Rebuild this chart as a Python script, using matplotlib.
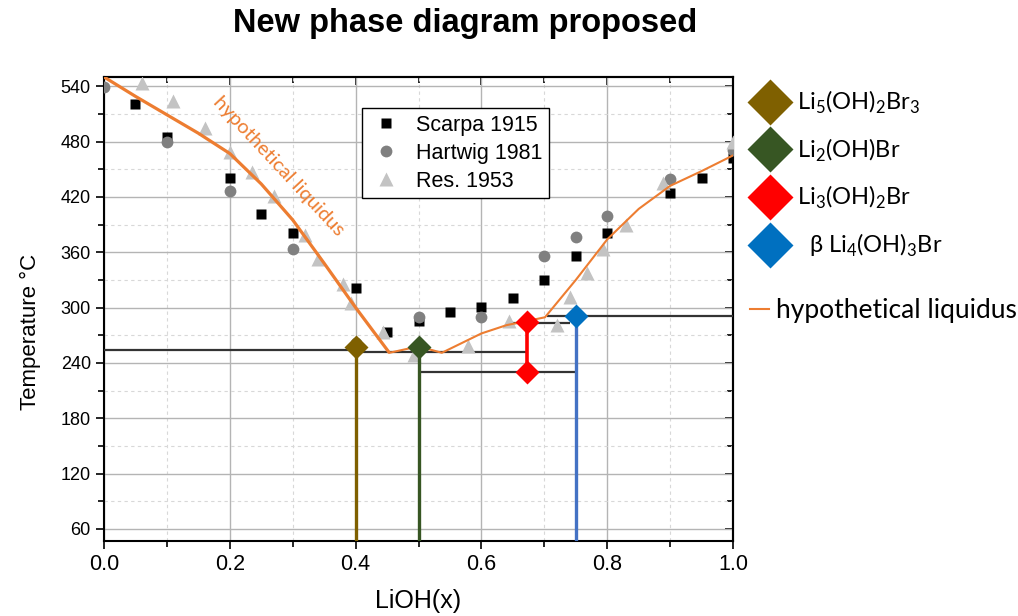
import matplotlib.pyplot as plt
from matplotlib.lines import Line2D
from matplotlib.ticker import MultipleLocator, FormatStrFormatter

plt.rcParams['font.family'] = ['Liberation Sans', 'DejaVu Sans']
plt.rcParams['mathtext.fontset'] = 'custom'
plt.rcParams['mathtext.rm'] = 'Lato'

# Scarpa 1915 (black squares)
scarpa_x = [0.05, 0.1, 0.2, 0.25, 0.3, 0.4, 0.45, 0.5, 0.55, 0.6, 0.65, 0.7, 0.75, 0.8, 0.9, 0.95, 1.0]
scarpa_T = [521, 485, 441, 401, 381, 321, 274, 286, 295, 301, 310, 330, 356, 381, 424, 441, 462]

# Hartwig 1981 (grey circles)
hartwig_x = [0.0, 0.1, 0.2, 0.3, 0.4, 0.5, 0.6, 0.7, 0.75, 0.8, 0.9, 1.0]
hartwig_T = [539, 480, 426, 363, 262, 290, 290, 356, 377, 399, 439, 471]

# Res. 1953 (light grey triangles)
res_x = [0.06, 0.11, 0.16, 0.2, 0.235, 0.27, 0.32, 0.34, 0.38, 0.392, 0.444, 0.492,
         0.578, 0.643, 0.72, 0.74, 0.768, 0.794, 0.83, 0.889, 1.0]
res_T = [543, 524, 495, 469, 447, 421, 379, 353, 326, 305, 274, 249,
         258, 285, 281, 312, 338, 363, 390, 435, 480]

# hypothetical liquidus
liq_left_x = [0.0, 0.05, 0.1, 0.15, 0.2, 0.25, 0.3, 0.35, 0.4, 0.4536]
liq_left_T = [550, 529, 509, 489, 467, 434, 395, 348, 300, 251]
liq_right_x = [0.4536, 0.5, 0.537, 0.6, 0.64, 0.701, 0.75, 0.8, 0.85, 0.9, 0.95, 1.0]
liq_right_T = [251, 258, 251, 272, 281, 289.5, 330, 374, 407, 432, 448, 465]

# compounds
comp_labels = [r'Li$_\mathregular{5}$(OH)$_\mathregular{2}$Br$_\mathregular{3}$',
               r'Li$_\mathregular{2}$(OH)Br',
               r'Li$_\mathregular{3}$(OH)$_\mathregular{2}$Br',
               r'  β Li$_\mathregular{4}$(OH)$_\mathregular{3}$Br']
comp_x = [0.4, 0.5, 0.672, 0.75]
comp_T = [257, 257, 284.7, 290.8]
comp_colors = ['#7F6000', '#375623', '#FF0000', '#0070C0']
line_colors = ['#7F6000', '#375623', '#FF0000', '#4472C4']
red_low_T = 230.6

# horizontal (invariant) lines
hline_T = [254, 251.5, 230.6, 283, 291]
hline_x0 = [0.0, 0.41, 0.5, 0.643, 0.704]
hline_x1 = [0.41, 0.672, 0.75, 0.74, 1.0]

orange = '#ED7D31'
ymin, ymax = 47, 550

fig = plt.figure(figsize=(10.18, 6.16), dpi=100)
ax = fig.add_axes([0.1022, 0.1218, 0.6179, 0.7532])

ax.set_xlim(0, 1)
ax.set_ylim(ymin, ymax)

# grid
ax.set_axisbelow(True)
ax.xaxis.set_major_locator(MultipleLocator(0.2))
ax.xaxis.set_minor_locator(MultipleLocator(0.1))
ax.xaxis.set_major_formatter(FormatStrFormatter('%.1f'))
ax.set_yticks(range(60, 541, 60))
ax.yaxis.set_minor_locator(MultipleLocator(30))
ax.grid(which='major', color='#b4b4b4', lw=1.0, ls='-')
ax.grid(which='minor', color='#d8d8d8', lw=0.8, ls=(0, (3, 3)))

# invariant lines
ax.hlines(hline_T, hline_x0, hline_x1, colors='#333333', lw=1.6, zorder=3)

# data
h1, = ax.plot(scarpa_x, scarpa_T, 's', color='black', ms=7.5, mec='none', zorder=4, label='Scarpa 1915')
h2, = ax.plot(hartwig_x, hartwig_T, 'o', color='#808080', ms=8.5, mec='none', zorder=4, label='Hartwig 1981')
h3, = ax.plot(res_x, res_T, '^', color='#c3c3c3', ms=9.5, mec='none', zorder=4, label='Res. 1953')

# liquidus
ax.plot(liq_left_x, liq_left_T, color=orange, lw=2.3, zorder=5, solid_capstyle='butt', solid_joinstyle='round')
ax.plot(liq_right_x, liq_right_T, color=orange, lw=1.5, zorder=5, solid_joinstyle='round')
ax.text(0.278, 453, 'hypothetical liquidus', color=orange, fontsize=14.5, family=['Lato', 'DejaVu Sans'],
        rotation=-47, rotation_mode='anchor', ha='center', va='center', zorder=6)

# compound lines and markers
for i in range(4):
    if i == 2:
        ax.vlines(comp_x[i], red_low_T, comp_T[i], color=line_colors[i], lw=2.6, zorder=6)
        ax.plot([comp_x[i]], [red_low_T], 'D', color=comp_colors[i], ms=12, mec='none', zorder=7)
    else:
        ax.vlines(comp_x[i], ymin, comp_T[i], color=line_colors[i], lw=2.4, zorder=6)
    ax.plot([comp_x[i]], [comp_T[i]], 'D', color=comp_colors[i], ms=12, mec='none', zorder=7)

# axes styling
for s in ax.spines.values():
    s.set_linewidth(1.5)
ax.tick_params(which='both', direction='out', width=1.2)
ax.tick_params(axis='y', labelsize=13)
ax.tick_params(axis='x', labelsize=15.5)
ax.tick_params(which='major', length=6)
ax.tick_params(which='minor', length=4)

secx = ax.secondary_xaxis('top')
secx.xaxis.set_major_locator(MultipleLocator(0.2))
secx.xaxis.set_minor_locator(MultipleLocator(0.1))
secx.tick_params(which='both', direction='in', labeltop=False, width=1.2)
secx.tick_params(which='major', length=6)
secx.tick_params(which='minor', length=4)
secx.spines['top'].set_linewidth(1.5)

secy = ax.secondary_yaxis('right')
secy.set_yticks(range(60, 541, 60))
secy.yaxis.set_minor_locator(MultipleLocator(30))
secy.tick_params(which='both', direction='in', labelright=False, width=1.2)
secy.tick_params(which='major', length=6)
secy.tick_params(which='minor', length=4)
secy.spines['right'].set_linewidth(1.5)

ax.set_xlabel('LiOH(x)', fontsize=18)
ax.xaxis.set_label_coords(0.5, -0.103)
ax.set_ylabel('Temperature °C', fontsize=16)
ax.yaxis.set_label_coords(-0.100, 0.45)

fig.text(0.457, 0.962, 'New phase diagram proposed', fontsize=23.5, fontweight='bold', ha='center', va='center')

# source legend
leg1 = ax.legend(handles=[h1, h2, h3], loc='upper left', bbox_to_anchor=(0.41, 0.933), fontsize=15.5,
                 frameon=True, fancybox=False, edgecolor='black', framealpha=1, borderaxespad=0,
                 handletextpad=0.6, labelspacing=0.33, borderpad=0.3, handlelength=1.6)
leg1.get_frame().set_linewidth(1.0)
ax.add_artist(leg1)

# compound legend (outside)
comp_handles = [Line2D([], [], ls='none', marker='D', ms=23, color=c, mec='none') for c in comp_colors]
leg2 = ax.legend(handles=comp_handles, labels=comp_labels, loc='upper left', bbox_to_anchor=(1.019, 0.995),
                 frameon=False, prop={'family': ['Lato', 'DejaVu Sans'], 'size': 17},
                 handlelength=1.3, handletextpad=0.5, labelspacing=0.87, borderaxespad=0)
ax.add_artist(leg2)

liq_handle = Line2D([], [], color=orange, lw=1.5)
ax.legend(handles=[liq_handle], labels=['hypothetical liquidus'], loc='upper left', bbox_to_anchor=(1.0103, 0.546),
          frameon=False, prop={'family': ['Lato', 'DejaVu Sans'], 'size': 19},
          handlelength=0.7, handletextpad=0.3, borderaxespad=0)

fig.savefig('out.png', dpi=100)
